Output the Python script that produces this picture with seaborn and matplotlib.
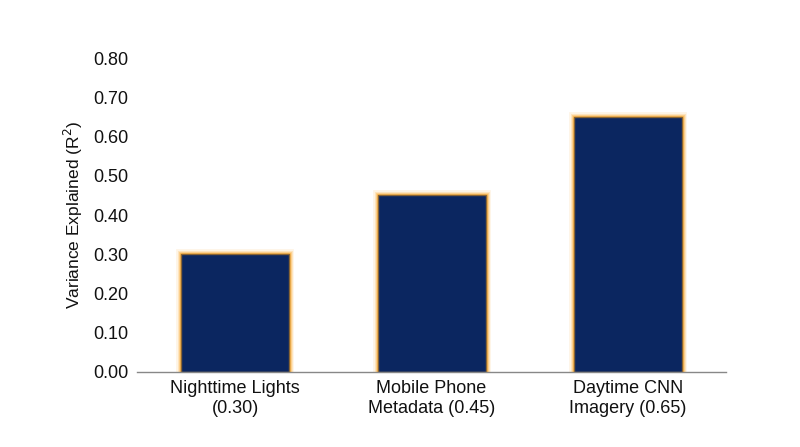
import matplotlib
matplotlib.use("Agg")
import matplotlib.pyplot as plt
import seaborn as sns
import pandas as pd

categories = ["Nighttime Lights\n(0.30)", "Mobile Phone\nMetadata (0.45)", "Daytime CNN\nImagery (0.65)"]
values = [0.30, 0.45, 0.65]
yticks = [0.0, 0.1, 0.2, 0.3, 0.4, 0.5, 0.6, 0.7, 0.8]

sns.set_theme(style="white")
plt.rcParams['font.family'] = ['Liberation Sans', 'DejaVu Sans']

df = pd.DataFrame({"cat": categories, "val": values})

fig = plt.figure(figsize=(8, 4.47), dpi=100)
ax = fig.add_axes([0.171, 0.168, 0.737, 0.702])

# glow layers
for lw, a in [(7, 0.12), (5, 0.2), (3.5, 0.35), (2, 0.6)]:
    sns.barplot(data=df, x="cat", y="val", color="#0b2660", width=0.55,
                edgecolor=(0.98, 0.65, 0.15, a), linewidth=lw, ax=ax, saturation=1)
sns.barplot(data=df, x="cat", y="val", color="#0b2660", width=0.55,
            edgecolor=(0.55, 0.40, 0.20, 0.9), linewidth=1.0, ax=ax, saturation=1)

ax.set_ylim(0, 0.8)
ax.set_xlim(-0.5, 2.5)
ax.set_yticks(yticks)
ax.set_yticklabels([f"{v:.2f}" for v in yticks], fontsize=13, color="#111111")
ax.tick_params(axis="x", labelsize=13, colors="#111111", length=0, pad=6)
ax.tick_params(axis="y", length=0, pad=6)
ax.set_xlabel("")
ax.set_ylabel("Variance Explained (R$^2$)", fontsize=12.5, color="#111111", labelpad=6)
for s in ["top", "right", "left"]:
    ax.spines[s].set_visible(False)
ax.spines["bottom"].set_color("#888888")
ax.spines["bottom"].set_linewidth(1)
ax.grid(False)

fig.savefig("out.png", dpi=100)
